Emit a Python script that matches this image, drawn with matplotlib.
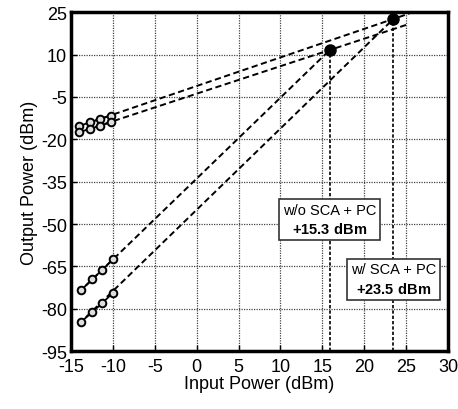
import numpy as np
import matplotlib
matplotlib.use("Agg")
import matplotlib.pyplot as plt
from matplotlib import font_manager

names = {f.name for f in font_manager.fontManager.ttflist}
fam = ['Liberation Sans Narrow'] if 'Liberation Sans Narrow' in names else ['Liberation Sans']
plt.rcParams['font.family'] = fam + ['DejaVu Sans']
plt.rcParams['axes.unicode_minus'] = False
plt.rcParams['mathtext.fontset'] = 'custom'
plt.rcParams['mathtext.rm'] = fam[0]
plt.rcParams['mathtext.bf'] = fam[0] + ':bold'

# ---- data ----
fund_x = [-14.0, -12.75, -11.5, -10.25]
fund_w_y = [-15.3, -14.0, -12.8, -11.6]      # w/ SCA + PC fundamental
fund_wo_y = [-17.5, -16.3, -15.2, -14.0]     # w/o SCA + PC fundamental
im3_x = [-13.75, -12.5, -11.25, -10.0]
im3_wo_y = [-73.3, -69.6, -66.2, -62.4]      # w/o SCA + PC IM3
im3_w_y = [-84.5, -81.3, -77.9, -74.4]       # w/ SCA + PC IM3
ip3_x = [15.9, 23.5]                         # w/o, w/
ip3_y = [11.6, 22.6]
fund_end_x = 25.4
xticks = [-15, -10, -5, 0, 5, 10, 15, 20, 25, 30]
yticks = [25, 10, -5, -20, -35, -50, -65, -80, -95]
box_labels = ["w/o SCA + PC", "w/ SCA + PC"]
box_values = ["+15.3 dBm", "+23.5 dBm"]
box_pos = [(15.9, -48.4), (23.5, -69.5)]

fig = plt.figure(figsize=(4.58, 4.10), dpi=100)
ax = fig.add_axes([0.155, 0.141, 0.823, 0.827])
ax.set_xlim(-15, 30)
ax.set_ylim(-95, 25)
ax.set_xticks(xticks)
ax.set_yticks(yticks)
ax.grid(True, linestyle=(0, (1, 1)), color='#444444', linewidth=0.9)
ax.set_axisbelow(True)

dash = (0, (3.2, 1.8))
lw = 1.4

def fit_line(x0, y0, xi, yi, xe):
    s = (yi - y0) / (xi - x0)
    xs = np.array([x0 - 0.3, xe])
    return xs, y0 + s * (xs - x0)

for ys, k in [(fund_wo_y, 0), (fund_w_y, 1)]:
    xs, yl = fit_line(fund_x[0], ys[0], ip3_x[k], ip3_y[k], fund_end_x)
    ax.plot(xs, yl, color='black', linestyle=dash, linewidth=lw, zorder=3)
for ys, k in [(im3_wo_y, 0), (im3_w_y, 1)]:
    xs, yl = fit_line(im3_x[0], ys[0], ip3_x[k], ip3_y[k], ip3_x[k])
    ax.plot(xs, yl, color='black', linestyle=dash, linewidth=lw, zorder=3)

for xs, ys in [(fund_x, fund_w_y), (fund_x, fund_wo_y), (im3_x, im3_wo_y), (im3_x, im3_w_y)]:
    ax.plot(xs, ys, color='black', linewidth=1.3, marker='o', markersize=5.5,
            markerfacecolor='#dddddd', markeredgecolor='black', markeredgewidth=1.4, zorder=4)

ax.vlines(ip3_x, -95, ip3_y, colors='black', linestyles=(0, (2, 1.2)), linewidth=1.2, zorder=3)
ax.plot(ip3_x, ip3_y, 'o', color='black', markersize=8, zorder=5)

for (bx, by), l1, l2 in zip(box_pos, box_labels, box_values):
    val = r"$\mathbf{" + l2.replace(" ", r"\ ") + "}$"
    ax.text(bx, by, l1 + "\n" + val, ha='center', va='center', fontsize=10.5,
            linespacing=1.4, zorder=6,
            bbox=dict(boxstyle='square,pad=0.25', facecolor='white', edgecolor='#333333', linewidth=1.2))

for s in ax.spines.values():
    s.set_linewidth(2.5)
ax.tick_params(direction='in', length=4, width=1, labelsize=13, pad=3)
ax.tick_params(axis='x', pad=5)
ax.set_xlabel("Input Power (dBm)", fontsize=13, labelpad=0)
ax.set_ylabel("Output Power (dBm)", fontsize=13, labelpad=2)

fig.savefig("out.png", dpi=100)
